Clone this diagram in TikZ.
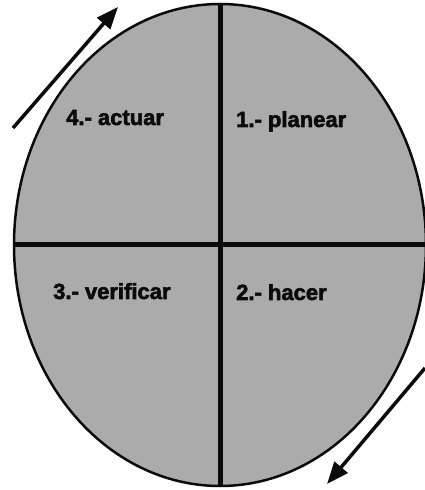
\documentclass[tikz,border=0pt]{standalone}
\usepackage{fontspec}
\setmainfont{Liberation Sans}[BoldFeatures={FakeBold=2.5}]
\usetikzlibrary{arrows.meta,shapes.geometric}
\definecolor{Ink}{HTML}{0B0B0B}
\definecolor{Stipple}{HTML}{ABABAB}

\begin{document}
\begin{tikzpicture}[x=1pt, y=1pt,
    phase/.style={anchor=base west, inner sep=0pt, font=\fontsize{22}{22}\selectfont\bfseries, text=Ink},
    flow/.style={-{Triangle[length=22pt, width=17pt]}, Ink, line width=3.5pt}]
      \useasboundingbox (0,0) rectangle (425,490);
      \node[ellipse, draw=Ink, line width=2.5pt, fill=Stipple, inner sep=0pt, minimum width=412pt, minimum height=482pt] (pdca) at (220,245) {};
      \draw[Ink, line width=5pt] (pdca.north) -- (pdca.south);
      \draw[Ink, line width=5pt] (pdca.west) -- (pdca.east);
      \node[phase] (plan) at (236,363) {1.- planear};
      \node[phase] (hacer) at (236,190) {2.- hacer};
      \node[phase] (verif) at (53,191) {3.- verificar};
      \node[phase] (actuar) at (66,365) {4.- actuar};
      \coordinate (inA) at (13,362);
      \coordinate (outA) at (118,483);
      \coordinate (inB) at (425,122);
      \coordinate (outB) at (327,6);
      \draw[flow] (inA) -- (outA);
      \draw[flow] (inB) -- (outB);
    \end{tikzpicture}
\end{document}
